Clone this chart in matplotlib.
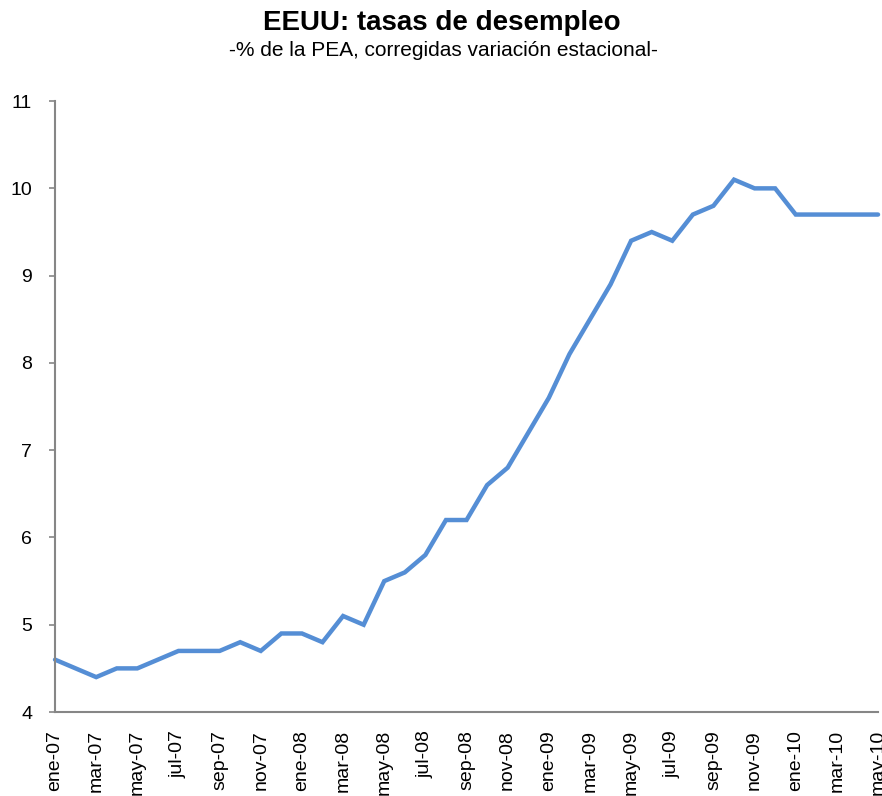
import matplotlib
matplotlib.use("Agg")
import matplotlib.pyplot as plt

# Tasa de desempleo EEUU, mensual ene-07 .. may-10
months = ["ene", "feb", "mar", "abr", "may", "jun",
          "jul", "ago", "sep", "oct", "nov", "dic"]
years = ["07", "08", "09", "10"]
labels = [m + "-" + y for y in years for m in months][:41]

rate = [4.6, 4.5, 4.4, 4.5, 4.5, 4.6, 4.7, 4.7, 4.7, 4.8, 4.7, 4.9,
        4.9, 4.8, 5.1, 5.0, 5.5, 5.6, 5.8, 6.2, 6.2, 6.6, 6.8, 7.2,
        7.6, 8.1, 8.5, 8.9, 9.4, 9.5, 9.4, 9.7, 9.8, 10.1, 10.0, 10.0,
        9.7, 9.7, 9.7, 9.7, 9.7]

plt.rcParams["font.family"] = ["Liberation Sans", "DejaVu Sans"]

fig = plt.figure(figsize=(8.82, 7.96), dpi=100)
ax = fig.add_axes([0.0624, 0.1055, 0.9331, 0.7675])

x = list(range(len(rate)))
ax.plot(x, rate, color="#558ED5", lw=3.2, solid_capstyle="round",
        solid_joinstyle="miter", clip_on=False)

ax.set_xlim(0, len(rate) - 1)
ax.set_ylim(4, 11)
ax.set_yticks(range(4, 12))
ax.set_xticks(x[::2])
ax.set_xticklabels(labels[::2], rotation=90)

for side in ["top", "right"]:
    ax.spines[side].set_visible(False)
for side in ["left", "bottom"]:
    ax.spines[side].set_color("#868686")
    ax.spines[side].set_linewidth(1.5)

ax.tick_params(axis="y", length=4.5, width=1.2, color="#868686",
               pad=12, labelsize=14)
ax.tick_params(axis="x", length=0, pad=13, labelsize=14)

fig.text(0.501, 0.9623, "EEUU: tasas de desempleo", ha="center",
         va="baseline", fontsize=20, fontweight="bold")
fig.text(0.503, 0.9296, "-% de la PEA, corregidas variación estacional-",
         ha="center", va="baseline", fontsize=15)

fig.savefig("out.png", dpi=100)
